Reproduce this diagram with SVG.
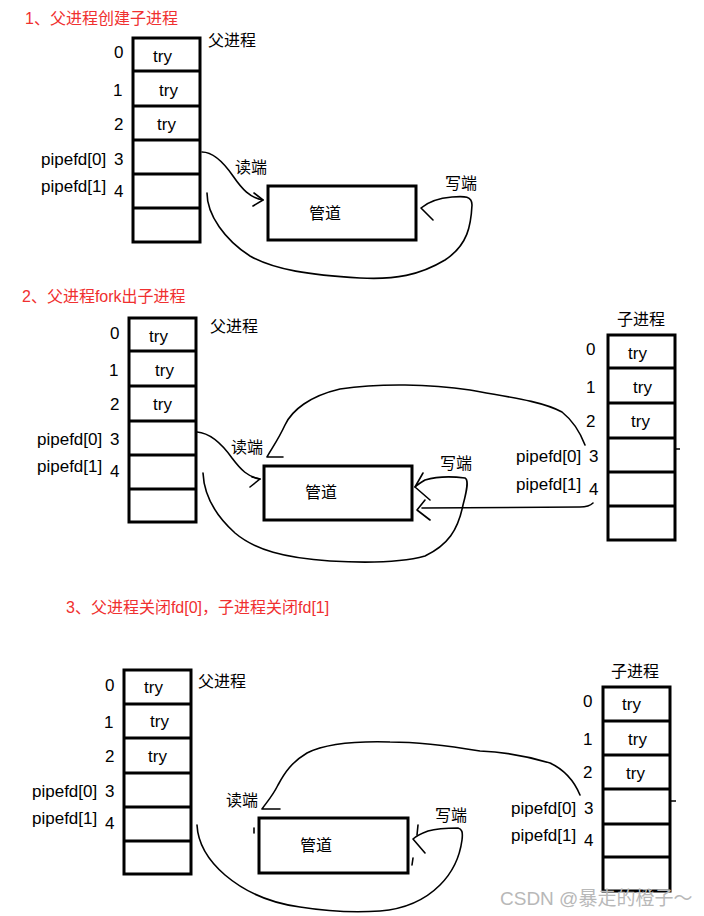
<svg xmlns="http://www.w3.org/2000/svg" width="704" height="916" viewBox="0 0 704 916">
<style>
text{font-family:"Liberation Sans","Noto Sans CJK SC",sans-serif;font-size:17px;fill:#000}
.cn{font-size:16px}
.t{fill:#f03030;font-size:16px}
.tab{fill:none;stroke:#000;stroke-width:3}
.row{stroke:#000;stroke-width:3}
.c{fill:none;stroke:#000;stroke-width:1.6;stroke-linecap:round;stroke-linejoin:round}
.wm{fill:#b8b8b8;font-size:19px}
</style>
<rect width="704" height="916" fill="#fff"/>

<!-- Section 1 -->
<text class="t" x="25" y="24">1、父进程创建子进程</text>
<g id="parent1">
<rect class="tab" x="133" y="38" width="67" height="204"/>
<line class="row" x1="133" y1="71" x2="200" y2="71"/>
<line class="row" x1="133" y1="106" x2="200" y2="106"/>
<line class="row" x1="133" y1="140" x2="200" y2="140"/>
<line class="row" x1="133" y1="174" x2="200" y2="174"/>
<line class="row" x1="133" y1="208" x2="200" y2="208"/>
<text x="153" y="62">try</text><text x="159" y="96">try</text><text x="157" y="130">try</text>
<text x="114" y="58">0</text><text x="113" y="96">1</text><text x="114" y="130">2</text>
<text x="41" y="165">pipefd[0]</text><text x="114" y="165">3</text>
<text x="41" y="192">pipefd[1]</text><text x="114" y="197">4</text>
<text class="cn" x="208" y="46">父进程</text>
</g>
<g id="pipe1">
<rect class="tab" x="268" y="186" width="148" height="54"/>
<text class="cn" x="309" y="219">管道</text>
<text class="cn" x="235" y="173">读端</text>
<text class="cn" x="445" y="189">写端</text>
</g>

<!-- Section 2 -->
<text class="t" x="22" y="302">2、父进程fork出子进程</text>
<g id="parent2">
<rect class="tab" x="129" y="318" width="67" height="204"/>
<line class="row" x1="129" y1="351" x2="196" y2="351"/>
<line class="row" x1="129" y1="386" x2="196" y2="386"/>
<line class="row" x1="129" y1="421" x2="196" y2="421"/>
<line class="row" x1="129" y1="455" x2="196" y2="455"/>
<line class="row" x1="129" y1="489" x2="196" y2="489"/>
<text x="149" y="342">try</text><text x="155" y="376">try</text><text x="153" y="410">try</text>
<text x="110" y="339">0</text><text x="109" y="376">1</text><text x="110" y="410">2</text>
<text x="37" y="445">pipefd[0]</text><text x="110" y="445">3</text>
<text x="37" y="472">pipefd[1]</text><text x="110" y="477">4</text>
<text class="cn" x="210" y="332">父进程</text>
</g>
<g id="child2">
<rect class="tab" x="608" y="335" width="67" height="205"/>
<line class="row" x1="608" y1="368" x2="675" y2="368"/>
<line class="row" x1="608" y1="403" x2="675" y2="403"/>
<line class="row" x1="608" y1="438" x2="675" y2="438"/>
<line class="row" x1="608" y1="472" x2="675" y2="472"/>
<line class="row" x1="608" y1="506" x2="675" y2="506"/>
<line x1="675" y1="449" x2="680" y2="449" stroke="#000" stroke-width="1.5"/>
<text x="628" y="359">try</text><text x="633" y="393">try</text><text x="631" y="427">try</text>
<text x="586" y="355">0</text><text x="586" y="393">1</text><text x="586" y="427">2</text>
<text x="516" y="462">pipefd[0]</text><text x="589" y="462">3</text>
<text x="516" y="490">pipefd[1]</text><text x="589" y="495">4</text>
<text class="cn" x="617" y="325">子进程</text>
</g>
<g id="pipe2">
<rect class="tab" x="264" y="466" width="148" height="54"/>
<text class="cn" x="305" y="498">管道</text>
<text class="cn" x="231" y="453">读端</text>
<text class="cn" x="440" y="469">写端</text>
</g>

<!-- Section 3 -->
<text class="t" x="66" y="613">3、父进程关闭fd[0]，子进程关闭fd[1]</text>
<g id="parent3">
<rect class="tab" x="124" y="670" width="67" height="204"/>
<line class="row" x1="124" y1="704" x2="191" y2="704"/>
<line class="row" x1="124" y1="738" x2="191" y2="738"/>
<line class="row" x1="124" y1="773" x2="191" y2="773"/>
<line class="row" x1="124" y1="807" x2="191" y2="807"/>
<line class="row" x1="124" y1="841" x2="191" y2="841"/>
<text x="144" y="693">try</text><text x="150" y="727">try</text><text x="148" y="762">try</text>
<text x="105" y="691">0</text><text x="104" y="728">1</text><text x="105" y="762">2</text>
<text x="32" y="797">pipefd[0]</text><text x="105" y="797">3</text>
<text x="32" y="824">pipefd[1]</text><text x="105" y="829">4</text>
<text class="cn" x="198" y="687">父进程</text>
</g>
<g id="child3">
<rect class="tab" x="603" y="687" width="67" height="204"/>
<line class="row" x1="603" y1="721" x2="670" y2="721"/>
<line class="row" x1="603" y1="755" x2="670" y2="755"/>
<line class="row" x1="603" y1="789" x2="670" y2="789"/>
<line class="row" x1="603" y1="824" x2="670" y2="824"/>
<line class="row" x1="603" y1="857" x2="670" y2="857"/>
<line x1="670" y1="801" x2="676" y2="801" stroke="#000" stroke-width="1.5"/>
<text x="622" y="710">try</text><text x="628" y="745">try</text><text x="626" y="779">try</text>
<text x="583" y="707">0</text><text x="583" y="745">1</text><text x="583" y="778">2</text>
<text x="511" y="814">pipefd[0]</text><text x="584" y="814">3</text>
<text x="511" y="841">pipefd[1]</text><text x="584" y="846">4</text>
<text class="cn" x="611" y="677">子进程</text>
</g>
<g id="pipe3">
<rect class="tab" x="259" y="818" width="149" height="55"/>
<text class="cn" x="300" y="851">管道</text>
<text class="cn" x="226" y="806">读端</text>
<text class="cn" x="435" y="821">写端</text>
</g>

<text class="wm" x="500" y="905">CSDN @暴走的橙子～</text>

<g id="connectors">
<!-- section 1 -->
<path class="c" d="M202,152 C214,152 224,163 233,176 C242,189 250,198 263,200"/>
<path class="c" d="M254,193 L263,200 L253,206"/>
<path class="c" d="M207,193 C207,215 225,240 250,256 C275,270 310,275 360,278 C395,280 420,275 445,260 C468,245 471,225 472,205 C472,196 465,196 452,197 C440,198 428,202 421,208 L433,220"/>
<!-- section 2 -->
<path class="c" d="M197,432 C210,433 222,444 232,458 C241,470 248,477 260,479"/>
<path class="c" d="M252,477 L260,479 L250,487"/>
<path class="c" d="M203,473 C204,495 215,515 235,533 C255,550 285,558 330,561 C365,563 400,563 425,556 C448,545 458,530 463,505 C467,490 469,480 465,478 C450,476 435,477 425,480 C420,483 417,485 415,487 L430,500"/>
<path class="c" d="M423,473 L415,487"/>
<path class="c" d="M585,445 C580,432 572,420 562,412 C540,400 500,396 470,390 C430,384 380,383 340,389 C310,396 292,410 285,425 C278,440 272,448 267,457 L283,457"/>
<path class="c" d="M593,503 C590,506 587,507 580,507 L422,508"/>
<path class="c" d="M425,500 L417,510 L430,520"/>
<!-- section 3 -->
<path class="c" d="M580,795 C575,783 565,770 550,763 C530,757 505,752 480,751 C450,746 420,742 390,742 C355,741 325,744 307,753 C292,762 285,772 278,785 C272,797 266,803 262,809 L280,809"/>
<path class="c" d="M197,825 C198,845 210,862 225,875 C245,892 270,903 300,907 C325,911 350,913 380,911 C405,909 425,900 440,885 C455,870 460,855 462,840 C463,832 462,829 458,828 C445,828 435,829 428,831 C420,834 416,836 413,839 L425,853"/>
<path class="c" d="M418,825 L417,835"/>
<path class="c" d="M413,858 L412,865"/>
<path class="c" d="M254,828 L254,833"/>
</g>
</svg>
